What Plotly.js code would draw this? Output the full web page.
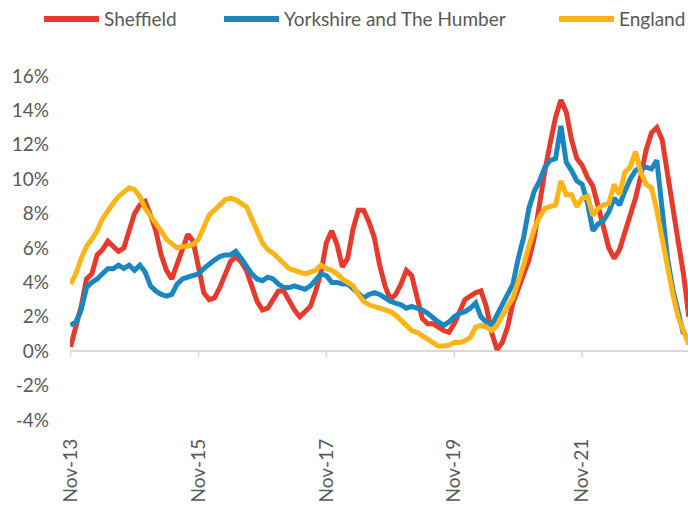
<!DOCTYPE html>
<html>
<head>
<meta charset="utf-8">
<script src="https://cdn.plot.ly/plotly-3.0.1.min.js"></script>
<style>
html,body{margin:0;padding:0;background:#fff;}
#chart{width:688px;height:509px;}
</style>
</head>
<body>
<div id="chart"></div>
<script>
// Monthly series, index 0 = Nov-13
const seriesNames = ["Sheffield", "Yorkshire and The Humber", "England"];
const seriesColors = ["#E8392B", "#1A87C1", "#FDB416"];

const sheffield = [0.25,1.3,2.6,4.2,4.5,5.6,5.9,6.4,6.1,5.8,6.0,6.9,8.0,8.5,8.7,7.9,7.0,5.6,4.7,4.2,
  5.0,5.9,6.8,6.4,4.8,3.4,3.0,3.1,3.7,4.5,5.2,5.5,5.2,4.7,3.8,2.9,2.4,2.5,3.0,3.5,
  3.5,2.9,2.4,2.0,2.3,2.6,3.5,4.6,6.3,7.0,6.2,4.9,5.4,7.1,8.2,8.2,7.5,6.6,5.0,3.8,
  3.0,3.3,3.9,4.7,4.4,3.0,1.9,1.6,1.6,1.4,1.2,1.1,1.6,2.3,3.0,3.2,3.4,3.5,2.6,1.1,
  0.1,0.5,1.4,2.8,3.6,4.4,5.3,6.6,8.6,10.5,12.1,13.6,14.6,13.9,12.3,11.2,10.8,10.1,9.6,8.4,
  7.0,6.0,5.4,5.9,6.9,7.8,8.9,10.2,11.7,12.7,13.0,12.3,10.2,8.2,6.4,4.5,2.0];

const yorkshire = [1.5,1.7,2.4,3.7,4.0,4.2,4.5,4.8,4.8,5.0,4.8,5.0,4.7,5.0,4.6,3.8,3.5,3.3,3.2,3.3,
  3.9,4.2,4.3,4.4,4.5,4.8,5.1,5.3,5.5,5.6,5.6,5.8,5.4,4.9,4.5,4.2,4.1,4.3,4.2,3.9,
  3.7,3.7,3.8,3.7,3.6,3.8,4.2,4.5,4.4,4.0,4.0,3.9,3.9,3.6,3.4,3.1,3.3,3.4,3.3,3.1,
  2.9,2.8,2.7,2.5,2.6,2.5,2.4,2.2,1.9,1.7,1.5,1.7,2.0,2.2,2.3,2.5,2.8,2.0,1.7,1.5,
  2.1,2.7,3.2,3.9,5.4,6.6,8.3,9.3,9.9,10.7,11.1,11.2,13.1,11.0,10.5,9.9,9.7,8.6,7.0,7.4,
  7.6,8.1,8.9,8.5,9.3,10.0,10.5,10.7,10.7,10.6,11.1,8.2,5.4,3.6,2.2,1.0];

const england = [3.9,4.5,5.4,6.1,6.5,7.0,7.7,8.2,8.6,9.0,9.3,9.5,9.4,9.0,8.3,7.9,7.5,7.0,6.5,6.2,
  6.0,6.1,6.1,6.2,6.5,7.2,7.9,8.2,8.5,8.8,8.9,8.8,8.6,8.4,7.7,7.0,6.3,5.9,5.7,5.4,
  5.1,4.8,4.7,4.6,4.5,4.6,4.7,5.0,4.8,4.7,4.5,4.2,4.0,3.8,3.3,2.9,2.7,2.6,2.5,2.4,
  2.3,2.1,1.8,1.4,1.2,1.1,0.9,0.7,0.45,0.3,0.3,0.35,0.5,0.5,0.6,0.8,1.4,1.5,1.4,1.2,
  1.5,2.1,2.6,3.1,4.0,5.0,6.1,7.1,7.8,8.3,8.4,8.5,9.9,9.1,9.1,8.4,8.9,9.0,7.9,8.3,
  8.5,8.6,9.7,9.1,10.4,10.7,11.6,10.4,9.7,9.5,8.2,6.5,4.6,3.3,2.0,1.2,0.4];

const xTickVals = [0, 24, 48, 72, 96];
const xTickText = ["Nov-13", "Nov-15", "Nov-17", "Nov-19", "Nov-21"];
const yTickVals = [-4, -2, 0, 2, 4, 6, 8, 10, 12, 14, 16];
const yTickText = ["-4%", "-2%", "0%", "2%", "4%", "6%", "8%", "10%", "12%", "14%", "16%"];

const allSeries = [sheffield, yorkshire, england];
const traces = allSeries.map((vals, i) => ({
  type: "scatter",
  mode: "lines",
  name: seriesNames[i],
  x: vals.map((_, k) => k),
  y: vals,
  line: {color: seriesColors[i], width: 5},
  showlegend: false,
  hoverinfo: "skip"
}));

const W = 688, H = 509;
const mL = 70, mR = 0, mT = 76, mB = 89;
const plotW = W - mL - mR, plotH = H - mT - mB;
const px2paperX = px => (px - mL) / plotW;
const px2paperY = py => (H - mB - py) / plotH;

// x-axis tick marks sitting on the zero line
const shapes = xTickVals.map(v => ({
  type: "line", xref: "x", yref: "y", ysizemode: "pixel", yanchor: 0,
  x0: v, x1: v, y0: 0, y1: -6,
  line: {color: "#D9D9D9", width: 1.5}
}));

// custom legend
const legendLineX = [44, 224, 559];
const legendY = 19;
const annotations = [];
seriesNames.forEach((nm, i) => {
  shapes.push({
    type: "line", xref: "paper", yref: "paper",
    x0: px2paperX(legendLineX[i]), x1: px2paperX(legendLineX[i] + 55),
    y0: px2paperY(legendY), y1: px2paperY(legendY),
    line: {color: seriesColors[i], width: 6}
  });
  annotations.push({
    xref: "paper", yref: "paper",
    x: px2paperX(legendLineX[i] + 58), y: px2paperY(legendY),
    xanchor: "left", yanchor: "middle", showarrow: false,
    text: nm, font: {family: "Lato, sans-serif", size: 19, color: "#595959"}
  });
});

const layout = {
  width: W, height: H,
  margin: {l: mL, r: mR, t: mT, b: mB, pad: 0},
  paper_bgcolor: "#ffffff", plot_bgcolor: "#ffffff",
  font: {family: "Lato, sans-serif", size: 19, color: "#595959"},
  xaxis: {
    range: [-0.1, 115.85],
    tickmode: "array", tickvals: xTickVals, ticktext: xTickText,
    tickangle: -90, ticks: "", showline: false, showgrid: false, zeroline: false,
    ticklabelstandoff: 14,
    tickfont: {family: "Lato, sans-serif", size: 19, color: "#595959"}
  },
  yaxis: {
    range: [-4, 16],
    tickmode: "array", tickvals: yTickVals, ticktext: yTickText,
    ticks: "", showline: false, showgrid: false,
    zeroline: true, zerolinecolor: "#D9D9D9", zerolinewidth: 2,
    ticklabelstandoff: 20,
    tickfont: {family: "Lato, sans-serif", size: 19, color: "#595959"}
  },
  shapes: shapes,
  annotations: annotations
};

Plotly.newPlot("chart", traces, layout, {displayModeBar: false, staticPlot: true});
</script>
</body>
</html>
